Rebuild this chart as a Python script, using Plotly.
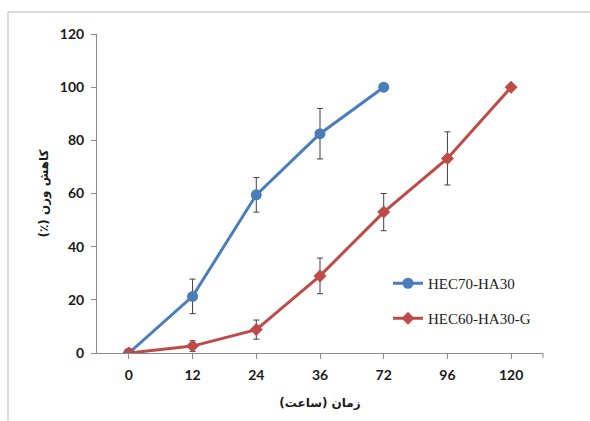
import plotly.graph_objects as go

# time points (hours) shown as evenly spaced categories
hours = ["0", "12", "24", "36", "72", "96", "120"]

# weight loss (%) and standard deviation for each formulation
hec70_loss = [0, 21.3, 59.5, 82.5, 100]
hec70_err = [None, 6.5, 6.5, 9.5, None]

hec60g_loss = [0, 2.6, 8.8, 29, 53, 73.2, 100]
hec60g_err = [None, 2.0, 3.6, 6.7, 7.0, 10.0, None]

blue = "#4A7EBB"
red = "#BE4B48"
err_color = "#404040"

fig = go.Figure()

fig.add_trace(go.Scatter(
    x=hours[:len(hec70_loss)], y=hec70_loss,
    mode="lines+markers", name="HEC70-HA30",
    line=dict(color=blue, width=3),
    marker=dict(symbol="circle", size=11, color=blue),
    error_y=dict(type="data", array=hec70_err, visible=True,
                 color=err_color, thickness=1, width=3),
    legend="legend", showlegend=True,
))

fig.add_trace(go.Scatter(
    x=hours[:len(hec60g_loss)], y=hec60g_loss,
    mode="lines+markers", name="HEC60-HA30-G",
    line=dict(color=red, width=3),
    marker=dict(symbol="diamond", size=10, color=red),
    error_y=dict(type="data", array=hec60g_err, visible=True,
                 color=err_color, thickness=1, width=3),
    legend="legend2", showlegend=True,
))

axis_gray = "#8C8C8C"
tick_font = dict(family="Lato, Liberation Sans, sans-serif", size=14, color="#1a1a1a", weight="bold")
legend_font = dict(family="Liberation Serif, serif", size=15, color="#222222")
title_font = dict(family="DejaVu Sans", size=12, color="#1a1a1a", weight="bold")

# plot area geometry in pixels, used to place the outer frame lines
L, R, T, B = 97, 47, 34, 68
W, H = 590, 421
pw, ph = W - L - R, H - T - B

def px_x(x):
    return (x - L) / pw

def px_y(y):
    return (H - B - y) / ph

fig.update_layout(
    width=W, height=H,
    showlegend=True,
    margin=dict(l=L, r=R, t=T, b=B),
    paper_bgcolor="white", plot_bgcolor="white",
    xaxis=dict(
        type="category", categoryorder="array", categoryarray=hours,
        range=[-0.5, 6.5], showgrid=False, zeroline=False,
        showline=True, linecolor=axis_gray, linewidth=1,
        ticks="outside", ticklen=5, tickcolor=axis_gray,
        tickfont=tick_font, ticklabelstandoff=4,
        title=dict(text="زمان (ساعت)", standoff=16, font=title_font),
    ),
    yaxis=dict(
        range=[0, 120], dtick=20, showgrid=False, zeroline=False,
        showline=True, linecolor=axis_gray, linewidth=1,
        ticks="outside", ticklen=5, tickcolor=axis_gray,
        tickfont=tick_font, ticklabelstandoff=4,
        title=dict(text="\u202bکاهش وزن (٪)\u202c", standoff=8, font=title_font),
    ),
    legend=dict(x=px_x(388), y=px_y(267), xanchor="left", yanchor="top",
                font=legend_font, bgcolor="rgba(0,0,0,0)", itemwidth=30),
    legend2=dict(x=px_x(388), y=px_y(302), xanchor="left", yanchor="top",
                 font=legend_font, bgcolor="rgba(0,0,0,0)", itemwidth=30),
    shapes=[
        # outer frame (top and left edges)
        dict(type="line", xref="paper", yref="paper",
             x0=px_x(8), x1=px_x(W + 5), y0=px_y(12), y1=px_y(12),
             line=dict(color="#BBBBBB", width=1)),
        dict(type="line", xref="paper", yref="paper",
             x0=px_x(8), x1=px_x(8), y0=px_y(12), y1=px_y(H + 5),
             line=dict(color="#BBBBBB", width=1)),
        # closing tick at the right end of the x axis
        dict(type="line", xref="paper", yref="paper",
             x0=1, x1=1, y0=0, y1=px_y(H - B + 5),
             line=dict(color=axis_gray, width=1)),
    ],
)

fig.write_html("out.html")
